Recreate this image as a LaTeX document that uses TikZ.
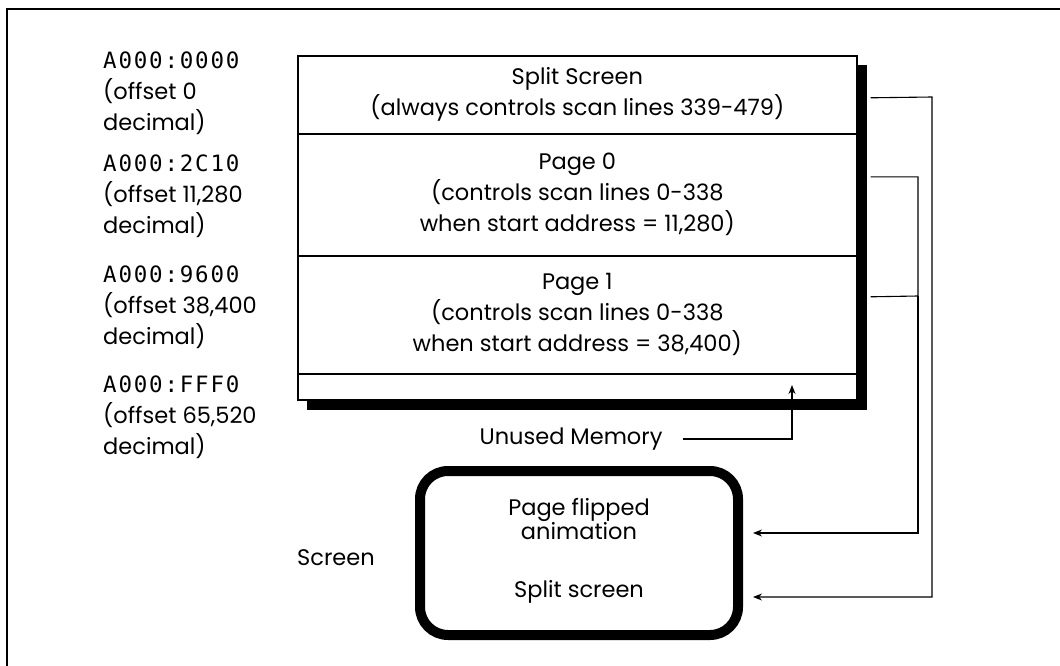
\documentclass[tikz,border=0pt]{standalone}
\usepackage{fontspec}
\setmainfont{Poppins}
\newfontfamily\codefont[LetterSpace=8]{DejaVu Sans Mono}
\usetikzlibrary{arrows.meta,calc}
\tikzset{
  txt/.style={font=\fontsize{22.5}{31}\selectfont, inner sep=0pt},
  memcell/.style={draw, line width=1.6pt, fill=white, minimum width=559pt, inner sep=0pt, align=center, txt},
  link/.style={line width=1.1pt},
  tip/.style={-{Stealth[length=9pt,width=7pt]}},
}
\newcommand\addr[1]{{\fontsize{22.5}{31}\codefont #1}}
\begin{document}
\begin{tikzpicture}[x=1pt,y=-1pt]
\useasboundingbox (0,0) rectangle (1060,666);
% frame edges
\draw[line width=1.3pt] (7,666) -- (7,9) -- (1060,9);

% shadow of the memory map
\fill (307,65) rectangle (867,410);

% memory map cells
\node[memcell, minimum height=78pt, anchor=north west] (split) at (297,55)
  {Split Screen\\(always controls scan lines 339-479)};
\node[memcell, minimum height=122pt, anchor=north west] (page0) at (297,133)
  {Page 0\\(controls scan lines 0-338\\when start address = 11,280)};
\node[memcell, minimum height=118pt, anchor=north west] (page1) at (297,255)
  {Page 1\\(controls scan lines 0-338\\when start address = 38,400)};
\node[memcell, minimum height=26pt, anchor=north west] (unused) at (297,373) {};

% address labels
\node[txt, anchor=west, align=left] (a0) at (103,93)
  {\addr{A000:0000}\\(offset 0\\decimal)};
\node[txt, anchor=west, align=left] (a1) at (103,196)
  {\addr{A000:2C10}\\(offset 11,280\\decimal)};
\node[txt, anchor=west, align=left] (a2) at (103,307)
  {\addr{A000:9600}\\(offset 38,400\\decimal)};
\node[txt, anchor=west, align=left] (a3) at (103,417)
  {\addr{A000:FFF0}\\(offset 65,520\\decimal)};

% unused memory label
\node[txt] (unusedlbl) at (571,439) {Unused Memory};
\coordinate (unusedpt) at (792,385);
\draw[link, tip] ($(unusedlbl.east)+(20,0)$) -| (unusedpt);

% screen
\draw[line width=10pt, rounded corners=28pt] (420,471) rectangle (738,635);
\node[txt, align=center] (screen) at (579,551)
  {Page flipped\\[-7pt]animation\\[27pt]Split screen};
\node[txt] (screenlbl) at (336,558) {Screen};

% connectors from the pages to the screen
\coordinate (inA) at (753,533);
\coordinate (inB) at (753,597);
\coordinate (busA) at (918,296);
\draw[link, tip] ($(split.east)+(13,3)$) -- (932,97) |- (inB);
\draw[link] ($(page0.east)+(13,-18)$) -| (busA) -- ($(page1.east)+(13,-18)$);
\draw[link, tip] (busA) |- (inA);
\end{tikzpicture}
\end{document}
